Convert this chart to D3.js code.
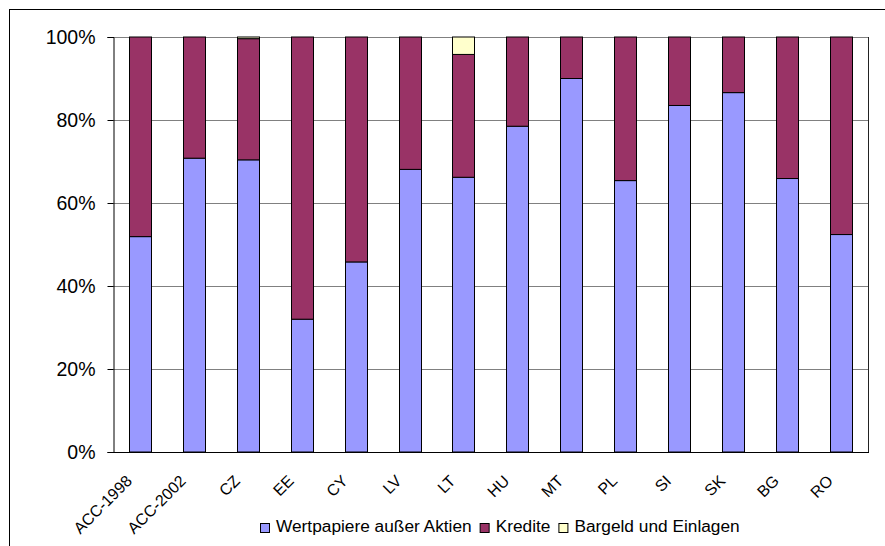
<!DOCTYPE html>
<html><head><meta charset="utf-8">
<script src="https://cdn.jsdelivr.net/npm/d3@7"></script>
<style>body{margin:0;background:#fff}svg{display:block;font-family:"Liberation Sans",Arial,sans-serif}</style>
</head><body><svg id="c" width="885" height="546"></svg>
<script>
const categories = ["ACC-1998","ACC-2002","CZ","EE","CY","LV","LT","HU","MT","PL","SI","SK","BG","RO"];
const wertpapiere = [51.9,70.8,70.4,32.0,45.8,68.1,66.2,78.5,90.0,65.4,83.5,86.6,65.9,52.4];
const bargeld     = [0,0,0.4,0,0,0,4.2,0,0,0,0,0,0,0];
const kredite = categories.map((c,i)=>+(100-wertpapiere[i]-bargeld[i]).toFixed(1));
const seriesNames = ["Wertpapiere außer Aktien","Kredite","Bargeld und Einlagen"];
const colors = ["#9999FF","#993366","#FFFFCC"];
const yTicks = [0,20,40,60,80,100];

const svg = d3.select("#c");
svg.append("rect").attr("x",9.5).attr("y",9.5).attr("width",900).attr("height",600)
  .attr("fill","#fff").attr("stroke","#000").attr("stroke-width",1);

const L=113,R=868,T=37,B=452;
const x = d3.scaleBand().domain(categories).range([L,R]).paddingInner(0.59).paddingOuter(0.295);
const y = d3.scaleLinear().domain([0,100]).range([B,T]);

// gridlines
svg.append("g").selectAll("line").data(yTicks.filter(t=>t>0)).join("line")
  .attr("x1",L).attr("x2",R).attr("y1",d=>Math.round(y(d))+0.5).attr("y2",d=>Math.round(y(d))+0.5)
  .attr("stroke","#808080").attr("stroke-width",1);
svg.append("line").attr("x1",R+0.5).attr("x2",R+0.5).attr("y1",T).attr("y2",B)
  .attr("stroke","#222").attr("stroke-width",1);

const rows = categories.map((c,i)=>({cat:c,w:wertpapiere[i],k:kredite[i],b:bargeld[i]}));
const stack = d3.stack().keys(["w","k","b"])(rows);
svg.append("g").selectAll("g").data(stack).join("g").attr("fill",(d,i)=>colors[i])
  .selectAll("rect").data(d=>d.filter(p=>p[1]-p[0]>0)).join("rect")
  .attr("x",d=>Math.round(x(d.data.cat))+0.5).attr("width",Math.round(x.bandwidth()))
  .attr("y",d=>y(d[1])).attr("height",d=>y(d[0])-y(d[1]))
  .attr("stroke","#000").attr("stroke-width",1);

// y axis
const ya = svg.append("g").attr("transform",`translate(${L+0.5},0)`)
  .call(d3.axisLeft(y).tickValues(yTicks).tickFormat(d=>d+"%").tickSize(6).tickPadding(12));
ya.select(".domain").attr("stroke","#000");
ya.selectAll("text").attr("font-size",19.5).attr("fill","#000").attr("font-family","Liberation Sans, Arial");
ya.selectAll(".tick line").attr("stroke","#000");

// x axis
const xa = svg.append("g").attr("transform",`translate(0,${B+0.5})`)
  .call(d3.axisBottom(x).tickSize(0).tickFormat(""));
xa.select(".domain").attr("stroke","#000").attr("d",`M${L},0H${R+1}`);
svg.append("g").selectAll("text").data(categories).join("text")
  .attr("transform",d=>`translate(${x(d)+x.bandwidth()/2-7},${B+30}) rotate(-45)`)
  .attr("text-anchor","end").attr("font-size",16).attr("fill","#000")
  .text(d=>d);

// legend
const lg = svg.append("g");
let lx = 260;
seriesNames.forEach((name,i)=>{
  lg.append("rect").attr("x",lx+0.5).attr("y",523.5).attr("width",9).attr("height",9)
    .attr("fill",colors[i]).attr("stroke","#000").attr("stroke-width",1);
  const t = lg.append("text").attr("x",lx+16).attr("y",532).attr("font-size",17.3).attr("fill","#000")
    .text(name);
  lx = lx + 16 + t.node().getComputedTextLength() + 8;
});
</script></body></html>
